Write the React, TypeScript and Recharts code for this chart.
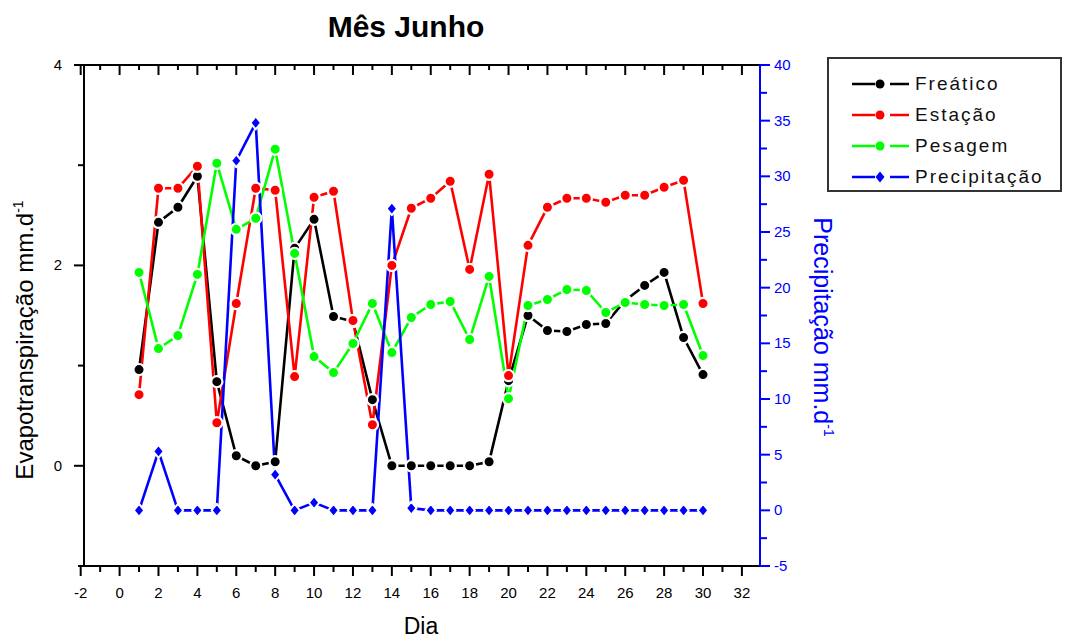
import React from "react";
import { LineChart, Line, XAxis, YAxis, Legend } from "recharts";

const days = [1, 2, 3, 4, 5, 6, 7, 8, 9, 10, 11, 12, 13, 14, 15, 16, 17, 18, 19, 20, 21, 22, 23, 24, 25, 26, 27, 28, 29, 30];

// evapotranspiração, mm/d (eixo esquerdo)
const freatico = [0.96, 2.43, 2.58, 2.89, 0.84, 0.1, 0.0, 0.04, 2.17, 2.46, 1.49, 1.44, 0.66, 0.0, 0.0, 0.0, 0.0, 0.0, 0.04, 0.85, 1.5, 1.35, 1.34, 1.41, 1.42, 1.65, 1.8, 1.93, 1.28, 0.91];
const estacao = [0.71, 2.77, 2.77, 2.99, 0.43, 1.62, 2.77, 2.75, 0.89, 2.68, 2.74, 1.45, 0.41, 2.0, 2.57, 2.67, 2.84, 1.96, 2.91, 0.9, 2.2, 2.58, 2.67, 2.67, 2.63, 2.7, 2.7, 2.78, 2.85, 1.62];
const pesagem = [1.93, 1.17, 1.3, 1.91, 3.02, 2.36, 2.47, 3.16, 2.12, 1.09, 0.93, 1.22, 1.62, 1.13, 1.48, 1.61, 1.64, 1.26, 1.89, 0.67, 1.6, 1.66, 1.76, 1.75, 1.53, 1.63, 1.61, 1.6, 1.61, 1.1];

// precipitação, mm/d (eixo direito)
const precipitacao = [0, 5.3, 0, 0, 0, 31.4, 34.8, 3.2, 0, 0.7, 0, 0, 0, 27.1, 0.2, 0, 0, 0, 0, 0, 0, 0, 0, 0, 0, 0, 0, 0, 0, 0];

const xTicks = [-2, -1, 0, 1, 2, 3, 4, 5, 6, 7, 8, 9, 10, 11, 12, 13, 14, 15, 16, 17, 18, 19, 20, 21, 22, 23, 24, 25, 26, 27, 28, 29, 30, 31, 32];
const leftTicks = [-1, 0, 1, 2, 3, 4];
const rightTicks = [-5, -2.5, 0, 2.5, 5, 7.5, 10, 12.5, 15, 17.5, 20, 22.5, 25, 27.5, 30, 32.5, 35, 37.5, 40];

const data = days.map((dia, i) => ({
  dia,
  freatico: freatico[i],
  estacao: estacao[i],
  pesagem: pesagem[i],
  precipitacao: precipitacao[i],
}));

const font = "'Liberation Sans', Arial, sans-serif";
const BLUE = "#0000ff";

const legendItems = [
  { label: "Freático", color: "#000000", diamond: false },
  { label: "Estação", color: "#ff0000", diamond: false },
  { label: "Pesagem", color: "#00ff00", diamond: false },
  { label: "Precipitação", color: BLUE, diamond: true },
];

const BottomTick = (props: any) => {
  const { x, y, payload } = props;
  const v = payload.value;
  const major = v % 2 === 0;
  return (
    <g>
      <line x1={x} x2={x} y1={y} y2={y + (major ? 10 : 6)} stroke="#000" strokeWidth={2} />
      {major && (
        <text x={x} y={y + 32} textAnchor="middle" fontSize={15} fontFamily={font} fill="#000">
          {v}
        </text>
      )}
    </g>
  );
};

const TopTick = (props: any) => {
  const { x, y, payload } = props;
  const major = payload.value % 2 === 0;
  return <line x1={x} x2={x} y1={y} y2={y + (major ? 10 : 5)} stroke="#000" strokeWidth={2} />;
};

const LeftTick = (props: any) => {
  const { x, y, payload } = props;
  const v = payload.value;
  const major = v % 2 === 0;
  return (
    <g>
      <line x1={x} x2={x - (major ? 10 : 6)} y1={y} y2={y} stroke="#000" strokeWidth={2} />
      {major && (
        <text x={x - 26} y={y + 5} textAnchor="middle" fontSize={15} fontFamily={font} fill="#000">
          {v}
        </text>
      )}
    </g>
  );
};

const RightTick = (props: any) => {
  const { x, y, payload } = props;
  const v = payload.value;
  const major = v % 5 === 0;
  return (
    <g>
      <line x1={x} x2={x + (major ? 10 : 7)} y1={y} y2={y} stroke={BLUE} strokeWidth={2} />
      {major && (
        <text x={x + 14} y={y + 5} textAnchor="start" fontSize={15} fontFamily={font} fill={BLUE}>
          {v}
        </text>
      )}
    </g>
  );
};

// marcador com pequeno espaço branco em volta, como no Origin
const makeCircle = (color: string) => (props: any) => {
  const { cx, cy, index } = props;
  if (cx == null || cy == null) return <g key={index} />;
  return <circle key={index} cx={cx} cy={cy} r={5.6} fill={color} stroke="#fff" strokeWidth={2.2} />;
};

const Diamond = (props: any) => {
  const { cx, cy, index } = props;
  if (cx == null || cy == null) return <g key={index} />;
  return (
    <path
      key={index}
      d={`M${cx},${cy - 6.5}L${cx + 5.3},${cy}L${cx},${cy + 6.5}L${cx - 5.3},${cy}Z`}
      fill={BLUE}
      stroke="#fff"
      strokeWidth={2}
      strokeLinejoin="round"
    />
  );
};

const LegendBox = () => (
  <div style={{ position: "relative", width: 231, height: 131, border: "2px solid #333", background: "#fff" }}>
    {legendItems.map((it, i) => (
      <div key={it.label} style={{ position: "absolute", left: 0, top: 14 + i * 31, height: 22, display: "flex", alignItems: "center" }}>
        <svg width={86} height={22} style={{ display: "block" }}>
          <line x1={23} x2={46} y1={11} y2={11} stroke={it.color} strokeWidth={2.5} />
          {it.diamond ? (
            <path d="M51,5.5L55.5,11L51,16.5L46.5,11Z" fill={it.color} />
          ) : (
            <circle cx={51} cy={11} r={4.5} fill={it.color} />
          )}
          <line x1={61} x2={80} y1={11} y2={11} stroke={it.color} strokeWidth={2.5} />
        </svg>
        <span style={{ fontFamily: font, fontSize: 19, letterSpacing: 2, color: "#111", whiteSpace: "nowrap" }}>{it.label}</span>
      </div>
    ))}
  </div>
);

export default function App() {
  return (
    <div style={{ position: "absolute", left: 0, top: 0, width: 1070, height: 641, background: "#fff" }}>
      <LineChart width={1070} height={641} data={data} margin={{ top: 55, right: 270, bottom: 45, left: 44 }}>
        <XAxis
          xAxisId="bottom"
          dataKey="dia"
          type="number"
          domain={[-1.83, 32.93]}
          ticks={xTicks}
          interval={0}
          height={30}
          tickSize={0}
          tickMargin={0}
          tickLine={false}
          tick={<BottomTick />}
          axisLine={{ stroke: "#000", strokeWidth: 2 }}
        />
        <XAxis
          xAxisId="top"
          orientation="top"
          dataKey="dia"
          type="number"
          domain={[-1.83, 32.93]}
          ticks={xTicks}
          interval={0}
          height={10}
          tickSize={0}
          tickMargin={0}
          tickLine={false}
          tick={<TopTick />}
          axisLine={{ stroke: "#000", strokeWidth: 2 }}
        />
        <YAxis
          yAxisId="left"
          type="number"
          domain={[-1, 4]}
          ticks={leftTicks}
          interval={0}
          width={40}
          tickSize={0}
          tickMargin={0}
          tickLine={false}
          tick={<LeftTick />}
          axisLine={{ stroke: "#000", strokeWidth: 2 }}
        />
        <YAxis
          yAxisId="right"
          orientation="right"
          type="number"
          domain={[-5, 40]}
          ticks={rightTicks}
          interval={0}
          width={40}
          tickSize={0}
          tickMargin={0}
          tickLine={false}
          tick={<RightTick />}
          axisLine={{ stroke: BLUE, strokeWidth: 2 }}
        />
        <Legend
          layout="vertical"
          align="center"
          verticalAlign="middle"
          content={<LegendBox />}
          wrapperStyle={{ position: "absolute", left: 827, top: 57, width: 235, height: 135 }}
        />
        <Line
          xAxisId="bottom"
          yAxisId="left"
          dataKey="freatico"
          name="Freático"
          stroke="#000000"
          strokeWidth={2.6}
          dot={makeCircle("#000000")}
          activeDot={false}
          isAnimationActive={false}
        />
        <Line
          xAxisId="bottom"
          yAxisId="left"
          dataKey="estacao"
          name="Estação"
          stroke="#ff0000"
          strokeWidth={2.6}
          dot={makeCircle("#ff0000")}
          activeDot={false}
          isAnimationActive={false}
        />
        <Line
          xAxisId="bottom"
          yAxisId="left"
          dataKey="pesagem"
          name="Pesagem"
          stroke="#00ff00"
          strokeWidth={2.6}
          dot={makeCircle("#00ff00")}
          activeDot={false}
          isAnimationActive={false}
        />
        <Line
          xAxisId="bottom"
          yAxisId="right"
          dataKey="precipitacao"
          name="Precipitação"
          stroke={BLUE}
          strokeWidth={2.6}
          dot={<Diamond />}
          activeDot={false}
          isAnimationActive={false}
        />
      </LineChart>
      <svg width={1070} height={641} style={{ position: "absolute", left: 0, top: 0, pointerEvents: "none" }}>
        <text x={406} y={37} textAnchor="middle" fontFamily={font} fontSize={30} fontWeight="bold" fill="#000">
          Mês Junho
        </text>
        <text x={421} y={634} textAnchor="middle" fontFamily={font} fontSize={23} fill="#000">
          Dia
        </text>
        <text
          x={33}
          y={340}
          transform="rotate(-90 33 340)"
          textAnchor="middle"
          fontFamily={font}
          fontSize={24}
          fill="#000"
        >
          Evapotranspiração mm.d
          <tspan fontSize={14} dy={-10}>-1</tspan>
        </text>
        <text
          x={814}
          y={327}
          transform="rotate(90 814 327)"
          textAnchor="middle"
          fontFamily={font}
          fontSize={25}
          fill={BLUE}
        >
          Precipitação mm.d
          <tspan fontSize={14} dy={-10}>-1</tspan>
        </text>
      </svg>
    </div>
  );
}
